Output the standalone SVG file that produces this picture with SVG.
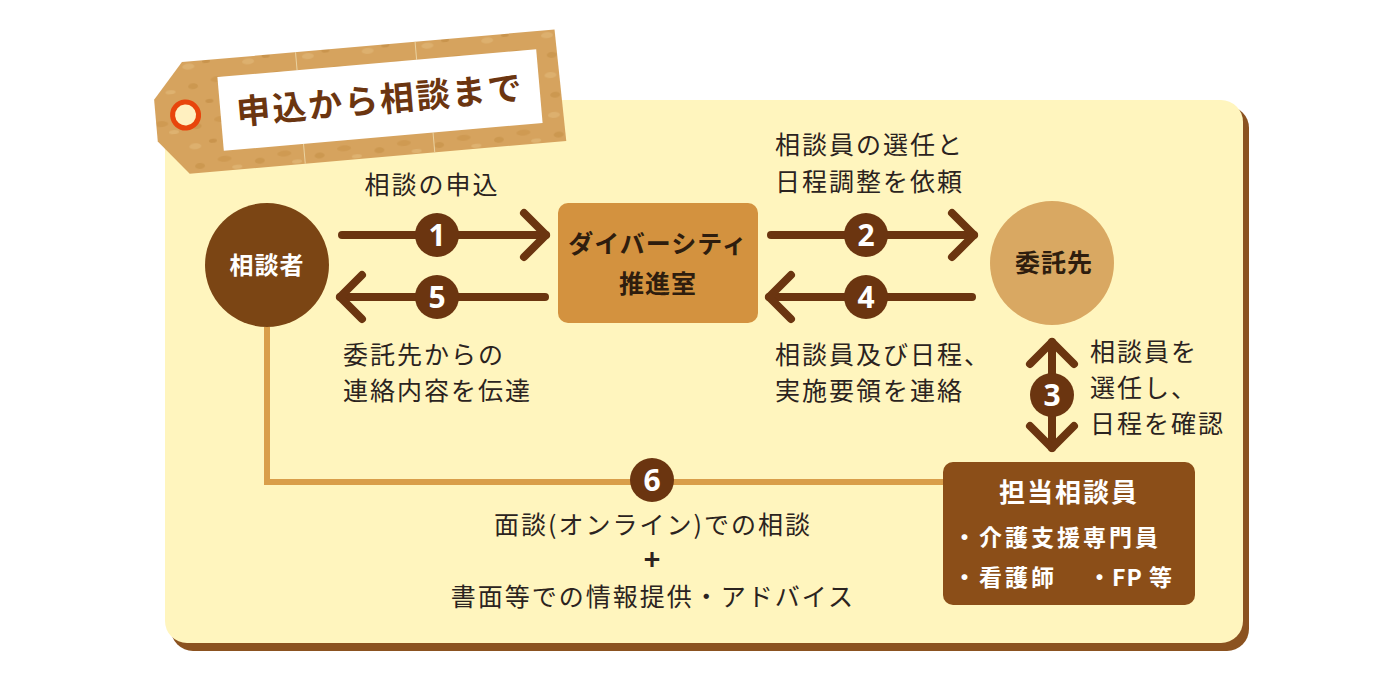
<svg xmlns="http://www.w3.org/2000/svg" width="1400" height="680" viewBox="0 0 1400 680">
<defs>
<style>
.lbl{font-family:"Noto Sans CJK JP","Noto Sans",sans-serif;font-size:25px;letter-spacing:2px;fill:#2b2320;}
.bold{font-family:"Noto Sans CJK JP","Noto Sans",sans-serif;font-weight:bold;}
.arrow{stroke:#6B3510;stroke-width:8;stroke-linecap:round;stroke-linejoin:round;fill:none;}
.num{fill:#6B3510;}
.numt{font-family:"Noto Sans","Noto Sans CJK JP",sans-serif;font-weight:bold;font-size:30px;fill:#ffffff;text-anchor:middle;}
</style>
<pattern id="cork" x="0" y="0" width="60" height="40" patternUnits="userSpaceOnUse">
<rect width="60" height="40" fill="#D6A35E"/>
<ellipse cx="12" cy="10" rx="6" ry="3" fill="#DDB06E"/>
<ellipse cx="40" cy="25" rx="7" ry="3" fill="#CF9A52"/>
<ellipse cx="30" cy="6" rx="4" ry="2" fill="#C9944D"/>
<ellipse cx="52" cy="34" rx="5" ry="2" fill="#DEB270"/>
<ellipse cx="15" cy="30" rx="5" ry="3" fill="#CC9850"/>
</pattern>
</defs>

<!-- main panel -->
<g id="panel">
<rect x="171" y="106" width="1078" height="545" rx="22" fill="#8B5220"/>
<rect x="165" y="100" width="1078" height="543" rx="22" fill="#FFF5BE"/>
</g>

<!-- title tag -->
<g id="title-tag" transform="rotate(-5 380 100)">
<polygon points="186,45 560,45 562,157 184,157 155,122 155,80" fill="url(#cork)"/>
<line x1="300" y1="45" x2="300" y2="63" stroke="#EAD2A0" stroke-width="1"/>
<line x1="420" y1="45" x2="420" y2="63" stroke="#EAD2A0" stroke-width="1"/>
<line x1="300" y1="137" x2="300" y2="157" stroke="#EAD2A0" stroke-width="1"/>
<line x1="430" y1="137" x2="430" y2="157" stroke="#EAD2A0" stroke-width="1"/>
<rect x="220" y="63" width="320" height="74" fill="#ffffff"/>
<circle cx="185" cy="98" r="13" fill="#FFF0C0" stroke="#E8450C" stroke-width="5"/>
<text x="380" y="112" class="bold" font-size="34" fill="#6B3510" text-anchor="middle" letter-spacing="2">申込から相談まで</text>
</g>

<!-- connectors -->
<g id="connectors">
<polyline points="267,327 267,482 945,482" fill="none" stroke="#D99E4A" stroke-width="6"/>
<line class="arrow" x1="342" y1="235" x2="546" y2="235"/>
<polyline class="arrow" points="524,213 546,235 524,257"/>
<line class="arrow" x1="545" y1="297" x2="340" y2="297"/>
<polyline class="arrow" points="362,275 340,297 362,319"/>
<line class="arrow" x1="771" y1="235" x2="974" y2="235"/>
<polyline class="arrow" points="952,213 974,235 952,257"/>
<line class="arrow" x1="972" y1="297" x2="769" y2="297"/>
<polyline class="arrow" points="791,275 769,297 791,319"/>
<line class="arrow" x1="1052" y1="342" x2="1052" y2="448"/>
<polyline class="arrow" points="1030,364 1052,342 1074,364"/>
<polyline class="arrow" points="1030,426 1052,448 1074,426"/>
<circle class="num" cx="437" cy="235" r="22"/><text class="numt" x="437" y="246">1</text>
<circle class="num" cx="437" cy="297" r="22"/><text class="numt" x="437" y="308">5</text>
<circle class="num" cx="866" cy="235" r="22"/><text class="numt" x="866" y="246">2</text>
<circle class="num" cx="866" cy="297" r="22"/><text class="numt" x="866" y="308">4</text>
<circle class="num" cx="1052" cy="395" r="22"/><text class="numt" x="1052" y="406">3</text>
<circle class="num" cx="652" cy="480" r="22"/><text class="numt" x="652" y="491">6</text>
</g>

<!-- labels -->
<g id="labels">
<text class="lbl" x="432" y="194" text-anchor="middle">相談の申込</text>
<text class="lbl" x="775" y="154">相談員の選任と</text>
<text class="lbl" x="775" y="191">日程調整を依頼</text>
<text class="lbl" x="343" y="364">委託先からの</text>
<text class="lbl" x="343" y="400">連絡内容を伝達</text>
<text class="lbl" x="775" y="364">相談員及び日程、</text>
<text class="lbl" x="775" y="400">実施要領を連絡</text>
<text class="lbl" x="1090" y="361">相談員を</text>
<text class="lbl" x="1090" y="397">選任し、</text>
<text class="lbl" x="1090" y="433">日程を確認</text>
<text class="lbl" x="653" y="534" text-anchor="middle" letter-spacing="1">面談(オンライン)での相談</text>
<text x="652" y="570" class="bold" font-size="28" fill="#2b2320" text-anchor="middle">+</text>
<text class="lbl" x="653" y="606" text-anchor="middle">書面等での情報提供・アドバイス</text>
</g>

<!-- nodes -->
<g id="node-soudansha">
<circle cx="267" cy="265" r="62" fill="#7B4514"/>
<text x="267" y="274" class="bold" font-size="24" fill="#ffffff" text-anchor="middle" letter-spacing="1">相談者</text>
</g>

<g id="node-suishinshitsu">
<rect x="558" y="203" width="200" height="120" rx="10" fill="#D3923F"/>
<text x="658" y="253" class="bold" font-size="25" fill="#2E1D0E" text-anchor="middle" letter-spacing="1">ダイバーシティ</text>
<text x="658" y="293" class="bold" font-size="25" fill="#2E1D0E" text-anchor="middle" letter-spacing="1">推進室</text>
</g>

<g id="node-itakusaki">
<circle cx="1052" cy="263" r="62" fill="#D9A862"/>
<text x="1054" y="272" class="bold" font-size="25" fill="#2E1D0E" text-anchor="middle" letter-spacing="1">委託先</text>
</g>

<g id="node-tantou">
<rect x="943" y="462" width="252" height="143" rx="10" fill="#8B4E18"/>
<text x="1069" y="502" class="bold" font-size="26" fill="#ffffff" text-anchor="middle" letter-spacing="2">担当相談員</text>
<text x="953" y="546" class="bold" font-size="23" fill="#ffffff" letter-spacing="3">・介護支援専門員</text>
<text x="953" y="586" class="bold" font-size="23" fill="#ffffff" letter-spacing="3">・看護師</text>
<text x="1088" y="586" class="bold" font-size="23" fill="#ffffff" letter-spacing="1">・FP 等</text>
</g>
</svg>
